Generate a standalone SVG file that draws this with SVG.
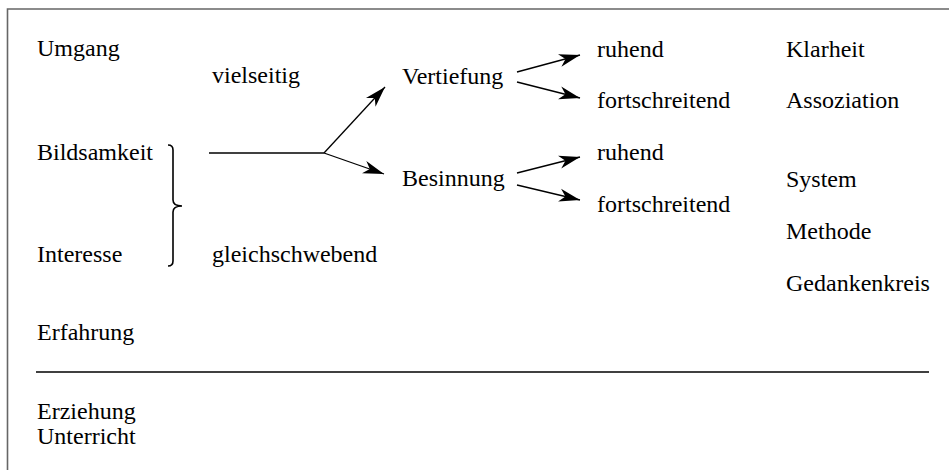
<svg xmlns="http://www.w3.org/2000/svg" width="949" height="470" viewBox="0 0 949 470">
<style>
text{font-family:"Liberation Serif","Times New Roman",serif;font-size:24px;fill:#000}
.frame{stroke:#666;stroke-width:1.6;fill:none}
.ln{stroke:#000;stroke-width:1.3;fill:none}
.br{stroke:#000;stroke-width:1.6;fill:none}
.arr{stroke:#000;stroke-width:1.3;fill:none;marker-end:url(#ah)}
</style>
<defs>
<marker id="ah" markerUnits="userSpaceOnUse" viewBox="-22 -8 24 16" refX="0" refY="0" markerWidth="24" markerHeight="16" orient="auto" overflow="visible">
<path d="M0,0 L-21,-6.5 L-15,0 L-21,6.5 Z" fill="#000"/>
</marker>
</defs>
<rect width="949" height="470" fill="#fff"/>
<path class="frame" d="M7.5,470 V9 H949"/>
<g id="umgang"><text x="37" y="56">Umgang</text></g>
<g id="vielseitig"><text x="212" y="83">vielseitig</text></g>
<g id="vertiefung"><text x="402" y="84">Vertiefung</text></g>
<g id="besinnung"><text x="402" y="186">Besinnung</text></g>
<g id="ruhend1"><text x="597" y="57">ruhend</text></g>
<g id="fort1"><text x="597" y="108">fortschreitend</text></g>
<g id="ruhend2"><text x="597" y="160">ruhend</text></g>
<g id="fort2"><text x="597" y="212">fortschreitend</text></g>
<g id="klarheit"><text x="786" y="57">Klarheit</text></g>
<g id="assoziation"><text x="786" y="108">Assoziation</text></g>
<g id="system"><text x="786" y="187">System</text></g>
<g id="methode"><text x="786" y="239">Methode</text></g>
<g id="gedankenkreis"><text x="786" y="291">Gedankenkreis</text></g>
<g id="bildsamkeit"><text x="37" y="160">Bildsamkeit</text></g>
<g id="interesse"><text x="37" y="262">Interesse</text></g>
<g id="gleichschwebend"><text x="212" y="262">gleichschwebend</text></g>
<g id="erfahrung"><text x="37" y="340">Erfahrung</text></g>
<g id="erziehung"><text x="37" y="419">Erziehung</text><text x="37" y="444">Unterricht</text></g>
<g id="brace"><path class="br" d="M168,145 Q173,145 173,150 V200 Q173,206 182,206 Q173,206 173,212 V261 Q173,266 168,266"/></g>
<g id="connectors">
<line class="ln" x1="36" y1="372" x2="929" y2="372"/>
<line class="ln" x1="209" y1="153" x2="324" y2="153"/>
<line class="arr" x1="324" y1="153" x2="385" y2="87"/>
<line class="arr" x1="324" y1="153" x2="384" y2="174"/>
<line class="arr" x1="517" y1="72" x2="580" y2="55"/>
<line class="arr" x1="517" y1="82" x2="580" y2="98"/>
<line class="arr" x1="517" y1="173" x2="580" y2="157"/>
<line class="arr" x1="517" y1="185" x2="580" y2="200"/>
</g>
</svg>
